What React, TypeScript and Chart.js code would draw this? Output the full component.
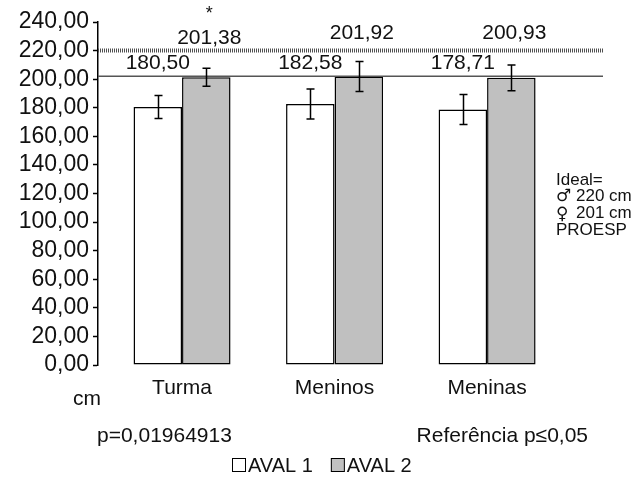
import React, { useEffect, useRef } from "react";
import { Chart, registerables } from "chart.js";

Chart.register(...registerables);

// ---- data ----
const categories = ["Turma", "Meninos", "Meninas"];
const seriesLabels = ["AVAL 1", "AVAL 2"];
const aval1 = [180.5, 182.58, 178.71];
const aval2 = [201.38, 201.92, 200.93];
const aval1Err = [8, 10.5, 10.5];
const aval2Err = [6.3, 10.5, 9];
const significance = ["*", "", ""];
const idealMale = 220;
const idealFemale = 202;
const yMin = 0;
const yMax = 240;
const yStep = 20;
const pText = "p=0,01964913";
const refText = "Referência p≤0,05";
const axisUnit = "cm";
const idealTitle = "Ideal=";
const idealSymbols = ["♂", "♀"];
const idealValues = ["220 cm", "201 cm"];
const idealSource = "PROESP";

const FONT = "'Liberation Sans', Arial, sans-serif";
const X_MIN = -0.551;
const X_MAX = 2.76;

const fmt = (v: number) => v.toFixed(2).replace(".", ",");

const overlay = {
  id: "overlay",
  afterDatasetsDraw(chart: any) {
    const ctx = chart.ctx as CanvasRenderingContext2D;
    const ys = chart.scales.y;
    const vals = [aval1, aval2];
    const errs = [aval1Err, aval2Err];
    ctx.save();
    // error bars
    [2, 3].forEach((di, s) => {
      const meta = chart.getDatasetMeta(di);
      meta.data.forEach((bar: any, i: number) => {
        const v = vals[s][i];
        const e = errs[s][i];
        const top = ys.getPixelForValue(v + e);
        const bot = ys.getPixelForValue(v - e);
        const cx = Math.round(bar.x) + 0.5;
        ctx.strokeStyle = "#000";
        ctx.lineWidth = 1.5;
        ctx.beginPath();
        ctx.moveTo(cx, top);
        ctx.lineTo(cx, bot);
        ctx.moveTo(cx - 4, top);
        ctx.lineTo(cx + 4, top);
        ctx.moveTo(cx - 4, bot);
        ctx.lineTo(cx + 4, bot);
        ctx.stroke();
      });
    });
    // value labels
    ctx.fillStyle = "#111";
    ctx.font = `21px ${FONT}`;
    ctx.textAlign = "center";
    ctx.textBaseline = "middle";
    [2, 3].forEach((di, s) => {
      const meta = chart.getDatasetMeta(di);
      meta.data.forEach((bar: any, i: number) => {
        const v = vals[s][i];
        const level = s === 0 ? 211.5 : significance[i] ? 228.5 : 232.5;
        const yPix = ys.getPixelForValue(level);
        ctx.fillText(fmt(v), bar.x + (s === 1 ? 3 : 0), yPix);
        if (s === 1 && significance[i]) {
          ctx.font = `18px ${FONT}`;
          ctx.fillText(significance[i], bar.x + 3, ys.getPixelForValue(245.5));
          ctx.font = `21px ${FONT}`;
        }
      });
    });
    // unit label
    ctx.font = `21px ${FONT}`;
    ctx.fillText(axisUnit, 87, 399);
    // p texts
    ctx.textAlign = "left";
    ctx.fillText(pText, 97, 436);
    ctx.textAlign = "right";
    ctx.fillText(refText, 588, 436);
    // ideal note
    ctx.textAlign = "left";
    ctx.font = `17px ${FONT}`;
    ctx.fillText(idealTitle, 556, 180);
    idealValues.forEach((t, k) => {
      const yy = 196.7 + k * 16.7;
      ctx.font = `17px 'Noto Sans', 'DejaVu Sans', ${FONT}`;
      ctx.fillText(idealSymbols[k], 556, yy + (k === 0 ? -1 : 1));
      ctx.font = `17px ${FONT}`;
      ctx.fillText(t, 576, yy);
    });
    ctx.fillText(idealSource, 556, 230);
    // legend
    ctx.font = `20px ${FONT}`;
    const fills = ["#ffffff", "#c0c0c0"];
    const ly = 465;
    let lx = 232;
    seriesLabels.forEach((lab, k) => {
      ctx.fillStyle = fills[k];
      ctx.fillRect(lx, ly - 7, 14, 14);
      ctx.strokeStyle = "#000";
      ctx.lineWidth = 1;
      ctx.strokeRect(lx + 0.5, ly - 6.5, 13, 13);
      ctx.fillStyle = "#111";
      ctx.textAlign = "left";
      ctx.fillText(lab, lx + 16, ly + 1);
      lx += 16 + ctx.measureText(lab).width + 18;
    });
    ctx.restore();
  },
};

export default function App() {
  const ref = useRef<HTMLCanvasElement | null>(null);
  useEffect(() => {
    if (!ref.current) return;
    const chart = new Chart(ref.current, {
      type: "bar",
      data: {
        datasets: [
          {
            type: "line",
            label: "ideal-m",
            data: [
              { x: X_MIN, y: idealMale },
              { x: X_MAX, y: idealMale },
            ],
            borderColor: "#505050",
            borderWidth: 4,
            borderDash: [1, 1],
            pointRadius: 0,
          } as any,
          {
            type: "line",
            label: "ideal-f",
            data: [
              { x: X_MIN, y: idealFemale },
              { x: X_MAX, y: idealFemale },
            ],
            borderColor: "#555",
            borderWidth: 1.5,
            pointRadius: 0,
          } as any,
          {
            label: seriesLabels[0],
            data: aval1.map((y, i) => ({ x: i, y })),
            backgroundColor: "#ffffff",
            borderColor: "#000",
            borderWidth: 1.5,
            borderSkipped: false,
            barPercentage: 1,
            categoryPercentage: 0.636,
          },
          {
            label: seriesLabels[1],
            data: aval2.map((y, i) => ({ x: i, y })),
            backgroundColor: "#c0c0c0",
            borderColor: "#000",
            borderWidth: 1.5,
            borderSkipped: false,
            barPercentage: 1,
            categoryPercentage: 0.636,
          },
        ],
      },
      options: {
        responsive: false,
        animation: false,
        layout: { padding: { top: 22, right: 40, left: 0, bottom: 0 } },
        plugins: {
          legend: { display: false },
          tooltip: { enabled: false },
        },
        scales: {
          x: {
            type: "linear",
            min: X_MIN,
            max: X_MAX,
            offset: false,
            bounds: "ticks",
            afterBuildTicks: (scale: any) => {
              scale.ticks = categories.map((_, i) => ({ value: i }));
            },
            afterFit: (scale: any) => {
              scale.height = 114;
            },
            ticks: {
              autoSkip: false,
              maxRotation: 0,
              padding: 11,
              color: "#111",
              font: { family: FONT, size: 21 },
              callback: (v: any) => categories[Number(v)] ?? "",
            },
            grid: { display: false, drawTicks: false, offset: false },
            border: { display: false },
          },
          y: {
            min: yMin,
            max: yMax,
            afterFit: (scale: any) => {
              scale.width = 98;
            },
            ticks: {
              stepSize: yStep,
              autoSkip: false,
              padding: 4,
              color: "#111",
              font: { family: FONT, size: 23 },
              callback: (v: any) => fmt(Number(v)),
            },
            grid: {
              drawOnChartArea: false,
              tickLength: 5,
              color: "#000",
              tickWidth: 1.5,
            },
            border: { display: true, color: "#000", width: 1.5 },
          },
        },
      },
      plugins: [overlay],
    });
    return () => chart.destroy();
  }, []);
  return (
    <div style={{ position: "absolute", left: 0, top: 0, width: 643, height: 479, background: "#fff" }}>
      <canvas ref={ref} width={643} height={479} />
    </div>
  );
}
